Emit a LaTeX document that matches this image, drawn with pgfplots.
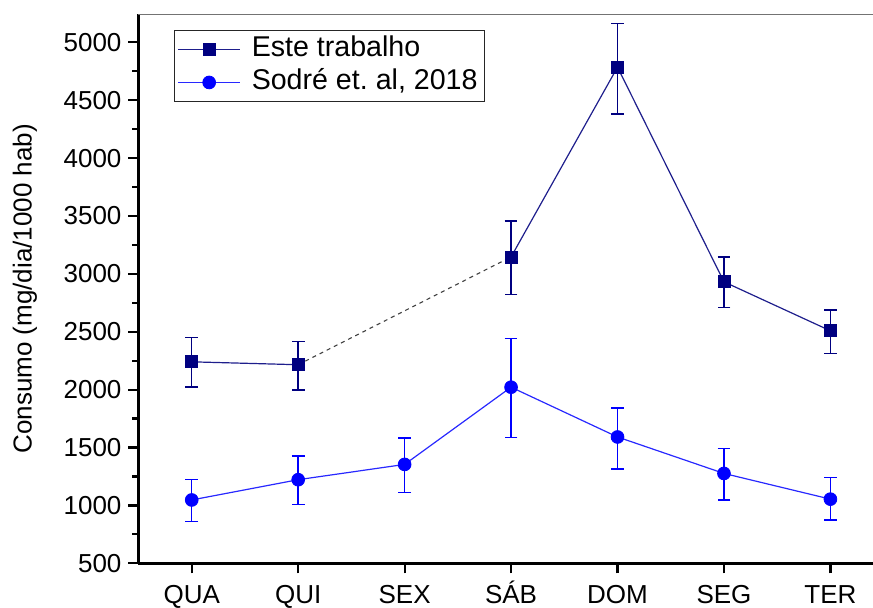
\documentclass[border=0pt]{standalone}
\usepackage{fontspec}
\setmainfont{Liberation Sans}
\usepackage{pgfplots}
\usepackage{pgfplotstable}
\pgfplotsset{compat=1.18}

\definecolor{estemark}{RGB}{0,0,128}
\definecolor{esteline}{RGB}{30,30,140}
\definecolor{sodreblue}{RGB}{0,0,255}
\definecolor{sodreline}{RGB}{40,40,255}

% Consumo diario (mg/dia/1000 hab) por dia da semana, com barras de erro
% x: 0=QUA 1=QUI 2=SEX 3=SAB 4=DOM 5=SEG 6=TER
\pgfplotstableread{
x  y     ep   em
0  2240  211  219
1  2215  200  218
2  nan   0    0
3  3146  309  326
4  4785  376  403
5  2931  215  221
6  2508  178  198
}\este
\pgfplotstableread{
x  y     ep   em
0  1047  178  188
1  1222  205  215
2  1354  228  242
3  2021  420  436
4  1591  249  275
5  1276  218  229
6  1054  185  181
}\sodre

\begin{document}
\begin{tikzpicture}
\begin{axis}[
  scale only axis, width=367.25pt, height=274.4pt,
  xmin=-0.5, xmax=6.4, ymin=500, ymax=5240,
  clip=false,
  axis x line*=bottom, axis y line*=left,
  axis line style={line width=1.3pt, black},
  xtick={0,...,6},
  xticklabels={QUA,QUI,SEX,SÁB,DOM,SEG,TER},
  ytick={500,1000,...,5000}, minor y tick num=1,
  tick align=outside, major tick length=5pt, minor tick length=3pt,
  every tick/.style={line width=1.1pt, black},
  scaled y ticks=false,
  /pgf/number format/1000 sep={},
  /pgf/number format/assume math mode=true,
  tick label style={font=\fontsize{13}{15.6}\selectfont},
  x tick label style={text height=9.5pt, text depth=0pt, yshift=-2pt},
  ylabel={Consumo (mg/dia/1000 hab)},
  ylabel style={font=\fontsize{13}{15.6}\selectfont, at={(axis description cs:-0.1545,0.5)}, anchor=center, rotate=0},
  unbounded coords=jump,
  legend style={at={(0.0483,0.9718)}, anchor=north west, draw=black!85,
    line width=0.6pt, font=\fontsize{14.3}{17}\selectfont,
    inner xsep=1.5pt, inner ysep=1.2pt, row sep=0pt, column sep=3.5pt,
    nodes={inner xsep=2pt, inner ysep=1.5pt, text height=10.5pt, text depth=3pt}},
  legend cell align=left,
  legend image code/.code={\draw[mark repeat=2,mark phase=2,#1] plot coordinates {(0pt,0pt)(15.5pt,0pt)(31pt,0pt)};},
]
% ligacao tracejada sobre o dia sem medicao (SEX)
\addplot[forget plot, draw=black!75, line width=0.55pt, dash pattern=on 2pt off 2pt]
  coordinates {(1,2215) (3,3146)};

\addplot[color=esteline, line width=0.6pt, mark=square*, mark size=3pt,
  mark options={fill=estemark, draw=estemark, line width=0.4pt},
  error bars/.cd, y dir=both, y explicit,
  error bar style={line width=0.7pt, estemark},
  error mark options={rotate=90, mark size=3.2pt, line width=0.7pt, estemark}]
  table[x=x, y=y, y error plus=ep, y error minus=em] {\este};
\addlegendentry{Este trabalho}

\addplot[color=sodreline, line width=0.6pt, mark=*, mark size=3.2pt,
  mark options={fill=sodreblue, draw=sodreblue, line width=0.4pt},
  error bars/.cd, y dir=both, y explicit,
  error bar style={line width=0.7pt, sodreblue},
  error mark options={rotate=90, mark size=3.2pt, line width=0.7pt, sodreblue}]
  table[x=x, y=y, y error plus=ep, y error minus=em] {\sodre};
\addlegendentry{Sodré et.\ al, 2018\hspace{8.5pt}}

\draw[black!55, line width=0.7pt] (rel axis cs:0,1) -- (rel axis cs:1,1);
\coordinate (SW) at (rel axis cs:0,0);
\coordinate (NE) at (rel axis cs:1,1);
\end{axis}
\pgfresetboundingbox
\path ([xshift=-69.25pt,yshift=-22.35pt]SW) rectangle ([yshift=7.25pt]NE);
\end{tikzpicture}
\end{document}
